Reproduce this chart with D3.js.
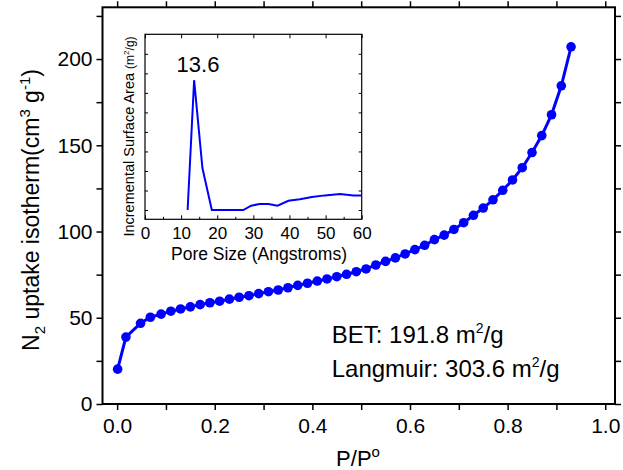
<!DOCTYPE html>
<html>
<head>
<meta charset="utf-8">
<script src="https://cdn.jsdelivr.net/npm/d3@7"></script>
<style>
  body { margin: 0; background: #fff; }
  svg { display: block; font-family: "Liberation Sans", Arial, sans-serif; }
</style>
</head>
<body>
<svg id="chart" width="623" height="470"></svg>
<script>
// isotherm data
var pressure = [0.001, 0.018, 0.048, 0.068, 0.09, 0.11, 0.13, 0.15, 0.17, 0.19,
    0.21, 0.23, 0.25, 0.27, 0.29, 0.31, 0.33, 0.35, 0.37, 0.39,
    0.41, 0.43, 0.45, 0.47, 0.49, 0.51, 0.53, 0.55, 0.57, 0.59,
    0.61, 0.63, 0.65, 0.67, 0.69, 0.71, 0.73, 0.75, 0.77, 0.79,
    0.81, 0.83, 0.85, 0.87, 0.89, 0.91, 0.93];
var uptake = [20.2, 38.8, 46.8, 50.3, 52.1, 53.8, 55.1, 56.3, 57.6, 58.7,
    59.6, 60.8, 61.9, 62.8, 64.0, 65.1, 66.1, 67.4, 68.8, 70.0,
    71.3, 72.5, 73.8, 75.2, 76.7, 78.3, 80.6, 82.7, 84.7, 87.0,
    89.5, 92.0, 95.3, 97.9, 101.2, 105.1, 109.4, 113.6, 118.4, 123.9,
    129.9, 137.0, 145.8, 155.6, 167.7, 184.5, 207.1];

// inset: pore size distribution
var poreSize = [11.8, 13.6, 15.9, 18.5, 27.2, 29.4, 31.7, 34.2, 36.7, 39.7, 42.9, 46.2, 49.8, 54.0, 57.7, 60];
var surfaceArea = [0, 13.3, 4.3, 0, 0, 0.44, 0.62, 0.62, 0.44, 0.95, 1.1, 1.33, 1.5, 1.64, 1.5, 1.5];

var xTicks = [0, 0.1, 0.2, 0.3, 0.4, 0.5, 0.6, 0.7, 0.8, 0.9, 1.0];
var xTickLabels = ["0.0", "", "0.2", "", "0.4", "", "0.6", "", "0.8", "", "1.0"];
var yTicks = [0, 25, 50, 75, 100, 125, 150, 175, 200, 225];
var yTickLabels = ["0", "", "50", "", "100", "", "150", "", "200", ""];
var insetXTicks = [0, 10, 20, 30, 40, 50, 60];
var insetXMinor = [5, 15, 25, 35, 45, 55];
var insetYTicks = [0, 2, 4, 6, 8, 10, 12, 14, 16];

const svg = d3.select("#chart");
const blue = "#0000ff";

// main plot box
const mLeft = 102.5, mRight = 615, mTop = 7.3, mBottom = 404;

const x = d3.scaleLinear().domain([-0.03, 1.02]).range([mLeft, mRight]);
const y = d3.scaleLinear().domain([0, 230]).range([mBottom, mTop]);

function styleAxis(g, size, lw) {
    g.select(".domain").remove();
    g.selectAll(".tick line").attr("stroke", "#000").attr("stroke-width", lw);
    g.selectAll(".tick text").attr("fill", "#000").attr("font-size", size + "px")
        .attr("font-family", "Liberation Sans, Arial, sans-serif");
}

svg.append("g")
    .attr("transform", `translate(0,${mBottom})`)
    .call(d3.axisBottom(x).tickValues(xTicks).tickSize(6).tickPadding(8)
        .tickFormat((d, i) => xTickLabels[i]))
    .call(g => styleAxis(g, 21, 1.5));

svg.append("g")
    .attr("transform", `translate(0,${mTop})`)
    .call(d3.axisTop(x).tickValues(xTicks).tickSize(6).tickFormat(""))
    .call(g => styleAxis(g, 21, 1.5));

svg.append("g")
    .attr("transform", `translate(${mLeft},0)`)
    .call(d3.axisLeft(y).tickValues(yTicks).tickSize(6).tickPadding(4)
        .tickFormat((d, i) => yTickLabels[i]))
    .call(g => styleAxis(g, 21, 1.5));

svg.append("g")
    .attr("transform", `translate(${mRight},0)`)
    .call(d3.axisRight(y).tickValues(yTicks).tickSize(6).tickFormat(""))
    .call(g => styleAxis(g, 21, 1.5));

svg.append("rect")
    .attr("x", mLeft).attr("y", mTop)
    .attr("width", mRight - mLeft).attr("height", mBottom - mTop)
    .attr("fill", "none").attr("stroke", "#000").attr("stroke-width", 2);

// isotherm curve
const pts = pressure.map((p, i) => [p, uptake[i]]);
svg.append("path")
    .datum(pts)
    .attr("fill", "none")
    .attr("stroke", blue)
    .attr("stroke-width", 3)
    .attr("d", d3.line().x(d => x(d[0])).y(d => y(d[1])));

svg.append("g").selectAll("circle")
    .data(pts)
    .enter().append("circle")
    .attr("cx", d => x(d[0]))
    .attr("cy", d => y(d[1]))
    .attr("r", 4.8)
    .attr("fill", blue);

// axis titles
const ytitle = svg.append("text")
    .attr("transform", "translate(38.5,210) rotate(-90)")
    .attr("text-anchor", "middle")
    .attr("font-size", "23px")
    .attr("fill", "#000");
ytitle.append("tspan").text("N");
ytitle.append("tspan").attr("font-size", "15px").attr("dy", 6).text("2");
ytitle.append("tspan").attr("dy", -6).text(" uptake isotherm(cm");
ytitle.append("tspan").attr("font-size", "15px").attr("dy", -9).text("3");
ytitle.append("tspan").attr("dy", 9).text(" g");
ytitle.append("tspan").attr("font-size", "15px").attr("dy", -9).text("-1");
ytitle.append("tspan").attr("dy", 9).text(")");

const xtitle = svg.append("text")
    .attr("x", 358).attr("y", 466)
    .attr("text-anchor", "middle")
    .attr("font-size", "22px")
    .attr("fill", "#000");
xtitle.append("tspan").text("P/P");
xtitle.append("tspan").attr("font-size", "15px").attr("dy", -9).text("o");

// surface area notes
function areaNote(yPos, label) {
    const t = svg.append("text")
        .attr("x", 331.7).attr("y", yPos)
        .attr("font-size", "24px").attr("fill", "#000");
    t.append("tspan").text(label + " m");
    t.append("tspan").attr("font-size", "14px").attr("dy", -10).text("2");
    t.append("tspan").attr("dy", 10).text("/g");
}
areaNote(343.3, "BET: 191.8");
areaNote(376.7, "Langmuir: 303.6");

// ---- inset ----
const il = 145, ir = 361.7, it = 34.3, ib = 219.3;
const xi = d3.scaleLinear().domain([0, 60]).range([il, ir]);
const yi = d3.scaleLinear().domain([-0.95, 18]).range([ib, it]);

svg.append("g")
    .attr("transform", `translate(0,${ib})`)
    .call(d3.axisBottom(xi).tickValues(insetXTicks).tickSize(-4).tickPadding(7.4)
        .tickFormat(d3.format("d")))
    .call(g => styleAxis(g, 17, 1));
svg.append("g")
    .attr("transform", `translate(0,${ib})`)
    .call(d3.axisBottom(xi).tickValues(insetXMinor).tickSize(-2.5).tickFormat(""))
    .call(g => styleAxis(g, 17, 1));
svg.append("g")
    .attr("transform", `translate(0,${it})`)
    .call(d3.axisTop(xi).tickValues(insetXTicks).tickSize(-4).tickFormat(""))
    .call(g => styleAxis(g, 17, 1));
svg.append("g")
    .attr("transform", `translate(${il},0)`)
    .call(d3.axisLeft(yi).tickValues(insetYTicks).tickSize(-3).tickFormat(""))
    .call(g => styleAxis(g, 17, 1));
svg.append("g")
    .attr("transform", `translate(${ir},0)`)
    .call(d3.axisRight(yi).tickValues(insetYTicks).tickSize(-3).tickFormat(""))
    .call(g => styleAxis(g, 17, 1));

svg.append("rect")
    .attr("x", il).attr("y", it)
    .attr("width", ir - il).attr("height", ib - it)
    .attr("fill", "none").attr("stroke", "#000").attr("stroke-width", 1.2);

svg.append("path")
    .datum(poreSize.map((p, i) => [p, surfaceArea[i]]))
    .attr("fill", "none")
    .attr("stroke", blue)
    .attr("stroke-width", 2)
    .attr("d", d3.line().x(d => xi(d[0])).y(d => yi(d[1])));

svg.append("text")
    .attr("x", 198).attr("y", 71.7)
    .attr("text-anchor", "middle")
    .attr("font-size", "22px").attr("fill", "#000")
    .text("13.6");

svg.append("text")
    .attr("x", 259).attr("y", 260)
    .attr("text-anchor", "middle")
    .attr("font-size", "17.5px").attr("fill", "#000")
    .text("Pore Size (Angstroms)");

const iy = svg.append("text")
    .attr("transform", "translate(134,136.5) rotate(-90)")
    .attr("text-anchor", "middle")
    .attr("font-size", "14.5px").attr("fill", "#000");
iy.append("tspan").text("Incremental Surface Area ");
iy.append("tspan").attr("font-size", "12px").text("(m");
iy.append("tspan").attr("font-size", "8px").attr("dy", -5).text("2");
iy.append("tspan").attr("font-size", "12px").attr("dy", 5).text("/g)");
</script>
</body>
</html>
